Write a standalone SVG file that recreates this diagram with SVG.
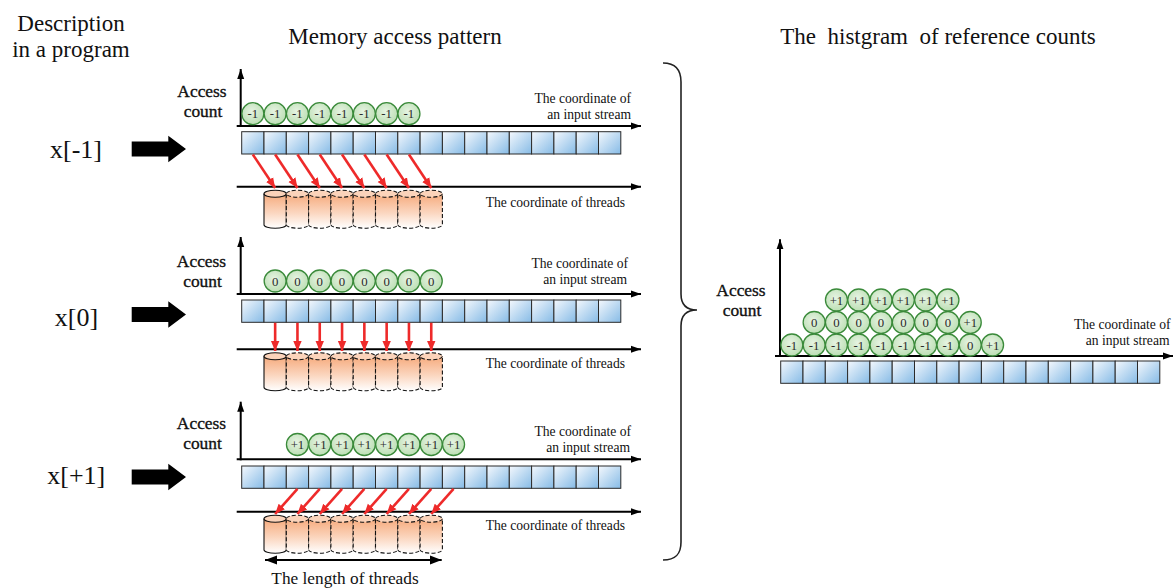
<svg xmlns="http://www.w3.org/2000/svg" xmlns:xlink="http://www.w3.org/1999/xlink" width="1173" height="588" viewBox="0 0 1173 588">
  <style>
    text { font-family: "Liberation Serif", "Times New Roman", serif; fill: #111; }
    .title { font-size: 23px; text-anchor: middle; }
    .expr { font-size: 26px; text-anchor: middle; }
    .ylab { font-size: 17.4px; text-anchor: middle; stroke: #111; stroke-width: 0.35; }
    .xlab { font-size: 13.6px; text-anchor: end; }
    .cnt { font-size: 12.8px; text-anchor: middle; fill: #2a2a2a; }
    .axis { stroke: #000; stroke-width: 2; fill: none; }
    .box { fill: url(#gBox); stroke: #2a2a2a; stroke-width: 1; }
    .coin { fill: url(#gCoin); stroke: #3a8a3a; stroke-width: 1.3; }
    .cyl { fill: url(#gCyl); stroke: #111; stroke-width: 1.1; }
    .cyltop { fill: #fbd3ba; stroke: #111; stroke-width: 1.1; }
    .dash { stroke-dasharray: 4 2.2; }
    .acc { stroke: #ee2a2a; stroke-width: 2.6; fill: none; marker-end: url(#redHead); }
  </style>
  <defs>
    <linearGradient id="gBox" x1="0" y1="0" x2="1" y2="1">
      <stop offset="0" stop-color="#f4f8fd"/>
      <stop offset="1" stop-color="#86bbe6"/>
    </linearGradient>
    <radialGradient id="gCoin" cx="0.45" cy="0.4" r="0.6">
      <stop offset="0" stop-color="#e6f3e2"/>
      <stop offset="1" stop-color="#bcdfb4"/>
    </radialGradient>
    <linearGradient id="gCyl" x1="0" y1="0" x2="0" y2="1">
      <stop offset="0" stop-color="#f6aa7c"/>
      <stop offset="0.55" stop-color="#fbd6bf"/>
      <stop offset="1" stop-color="#ffffff"/>
    </linearGradient>
    <marker id="axHead" markerUnits="userSpaceOnUse" markerWidth="12" markerHeight="10" refX="10" refY="5" orient="auto">
      <path d="M0,1.5 L10,5 L0,8.5 Z" fill="#000"/>
    </marker>
    <marker id="redHead" markerUnits="userSpaceOnUse" markerWidth="12" markerHeight="10" refX="10" refY="5" orient="auto">
      <path d="M0,0.8 L10,5 L0,9.2 Z" fill="#ee2a2a"/>
    </marker>
    <marker id="lenHead" markerUnits="userSpaceOnUse" markerWidth="14" markerHeight="12" refX="12" refY="6" orient="auto-start-reverse">
      <path d="M0,1.5 L12,6 L0,10.5 Z" fill="#000"/>
    </marker>
    <!-- row of 17 memory cells -->
    <g id="cells">
      <rect class="box" x="0" y="0" width="22.3" height="22.3"/>
      <rect class="box" x="22.3" y="0" width="22.3" height="22.3"/>
      <rect class="box" x="44.6" y="0" width="22.3" height="22.3"/>
      <rect class="box" x="66.9" y="0" width="22.3" height="22.3"/>
      <rect class="box" x="89.2" y="0" width="22.3" height="22.3"/>
      <rect class="box" x="111.5" y="0" width="22.3" height="22.3"/>
      <rect class="box" x="133.8" y="0" width="22.3" height="22.3"/>
      <rect class="box" x="156.1" y="0" width="22.3" height="22.3"/>
      <rect class="box" x="178.4" y="0" width="22.3" height="22.3"/>
      <rect class="box" x="200.7" y="0" width="22.3" height="22.3"/>
      <rect class="box" x="223" y="0" width="22.3" height="22.3"/>
      <rect class="box" x="245.3" y="0" width="22.3" height="22.3"/>
      <rect class="box" x="267.6" y="0" width="22.3" height="22.3"/>
      <rect class="box" x="289.9" y="0" width="22.3" height="22.3"/>
      <rect class="box" x="312.2" y="0" width="22.3" height="22.3"/>
      <rect class="box" x="334.5" y="0" width="22.3" height="22.3"/>
      <rect class="box" x="356.8" y="0" width="22.3" height="22.3"/>
    </g>
    <!-- row of 8 thread cylinders; the first solid, the rest dashed -->
    <g id="threads">
      <g>
        <path class="cyl" d="M0,7 V38 A11.15,3.5 0 0 0 22.3,38 V7"/>
        <ellipse class="cyltop" cx="11.15" cy="7" rx="11.15" ry="3.5"/>
      </g>
      <g class="dash">
        <path class="cyl" d="M22.3,7 V38 A11.15,3.5 0 0 0 44.6,38 V7"/>
        <ellipse class="cyltop" cx="33.45" cy="7" rx="11.15" ry="3.5"/>
        <path class="cyl" d="M44.6,7 V38 A11.15,3.5 0 0 0 66.9,38 V7"/>
        <ellipse class="cyltop" cx="55.75" cy="7" rx="11.15" ry="3.5"/>
        <path class="cyl" d="M66.9,7 V38 A11.15,3.5 0 0 0 89.2,38 V7"/>
        <ellipse class="cyltop" cx="78.05" cy="7" rx="11.15" ry="3.5"/>
        <path class="cyl" d="M89.2,7 V38 A11.15,3.5 0 0 0 111.5,38 V7"/>
        <ellipse class="cyltop" cx="100.35" cy="7" rx="11.15" ry="3.5"/>
        <path class="cyl" d="M111.5,7 V38 A11.15,3.5 0 0 0 133.8,38 V7"/>
        <ellipse class="cyltop" cx="122.65" cy="7" rx="11.15" ry="3.5"/>
        <path class="cyl" d="M133.8,7 V38 A11.15,3.5 0 0 0 156.1,38 V7"/>
        <ellipse class="cyltop" cx="144.95" cy="7" rx="11.15" ry="3.5"/>
        <path class="cyl" d="M156.1,7 V38 A11.15,3.5 0 0 0 178.4,38 V7"/>
        <ellipse class="cyltop" cx="167.25" cy="7" rx="11.15" ry="3.5"/>
      </g>
    </g>
    <path id="bigArrow" d="M131.7,-7.5 H168.3 V-13.3 L186,0 L168.3,13.3 V7.5 H131.7 Z" fill="#000"/>
  </defs>

  <!-- headings -->
  <g id="headings">
    <text class="title" x="71" y="31">Description</text>
    <text class="title" x="71" y="57">in a program</text>
    <text class="title" x="395" y="44">Memory access pattern</text>
    <text class="title" x="938" y="44" xml:space="preserve">The  histgram  of reference counts</text>
  </g>

  <!-- expressions -->
  <g id="expr-m1">
    <text class="expr" x="76" y="158">x[-1]</text>
    <use xlink:href="#bigArrow" transform="translate(0,149)"/>
  </g>
  <g id="expr-0">
    <text class="expr" x="76.5" y="326">x[0]</text>
    <use xlink:href="#bigArrow" transform="translate(0,314.5)"/>
  </g>
  <g id="expr-p1">
    <text class="expr" x="76.3" y="484">x[+1]</text>
    <use xlink:href="#bigArrow" transform="translate(0,477)"/>
  </g>

  <!-- panel: x[-1] -->
  <g id="panel-m1">
    <line class="axis" x1="240.7" y1="127" x2="240.7" y2="69" marker-end="url(#axHead)"/>
    <line class="axis" x1="236.7" y1="126" x2="641" y2="126" marker-end="url(#axHead)"/>
    <line class="axis" x1="236.7" y1="186.7" x2="641" y2="186.7" marker-end="url(#axHead)"/>
    <text class="ylab" x="202" y="96.5">Access</text>
    <text class="ylab" x="203" y="116.7">count</text>
    <text class="xlab" x="631" y="103">The coordinate of</text>
    <text class="xlab" x="631" y="119.3">an input stream</text>
    <text class="xlab" x="625" y="206.7">The coordinate of threads</text>
    <use xlink:href="#cells" transform="translate(241.7,131.7)"/>
    <use xlink:href="#threads" transform="translate(264,186.7)"/>
    <g>
      <circle class="coin" cx="252.85" cy="113.7" r="11"/><text class="cnt" x="252.85" y="118.2">-1</text>
      <circle class="coin" cx="275.15" cy="113.7" r="11"/><text class="cnt" x="275.15" y="118.2">-1</text>
      <circle class="coin" cx="297.45" cy="113.7" r="11"/><text class="cnt" x="297.45" y="118.2">-1</text>
      <circle class="coin" cx="319.75" cy="113.7" r="11"/><text class="cnt" x="319.75" y="118.2">-1</text>
      <circle class="coin" cx="342.05" cy="113.7" r="11"/><text class="cnt" x="342.05" y="118.2">-1</text>
      <circle class="coin" cx="364.35" cy="113.7" r="11"/><text class="cnt" x="364.35" y="118.2">-1</text>
      <circle class="coin" cx="386.65" cy="113.7" r="11"/><text class="cnt" x="386.65" y="118.2">-1</text>
      <circle class="coin" cx="408.95" cy="113.7" r="11"/><text class="cnt" x="408.95" y="118.2">-1</text>
    </g>
  </g>

  <!-- panel: x[0] -->
  <g id="panel-0">
    <line class="axis" x1="240.7" y1="295" x2="240.7" y2="237" marker-end="url(#axHead)"/>
    <line class="axis" x1="236.7" y1="294" x2="641" y2="294" marker-end="url(#axHead)"/>
    <line class="axis" x1="236.7" y1="349.3" x2="641" y2="349.3" marker-end="url(#axHead)"/>
    <text class="ylab" x="201.5" y="266.7">Access</text>
    <text class="ylab" x="202.5" y="286.7">count</text>
    <text class="xlab" x="628" y="268.3">The coordinate of</text>
    <text class="xlab" x="627" y="284.3">an input stream</text>
    <text class="xlab" x="625" y="368.3">The coordinate of threads</text>
    <use xlink:href="#cells" transform="translate(241.7,300)"/>
    <use xlink:href="#threads" transform="translate(264,349.3)"/>
    <g>
      <circle class="coin" cx="275.15" cy="281" r="11"/><text class="cnt" x="275.15" y="285.5">0</text>
      <circle class="coin" cx="297.45" cy="281" r="11"/><text class="cnt" x="297.45" y="285.5">0</text>
      <circle class="coin" cx="319.75" cy="281" r="11"/><text class="cnt" x="319.75" y="285.5">0</text>
      <circle class="coin" cx="342.05" cy="281" r="11"/><text class="cnt" x="342.05" y="285.5">0</text>
      <circle class="coin" cx="364.35" cy="281" r="11"/><text class="cnt" x="364.35" y="285.5">0</text>
      <circle class="coin" cx="386.65" cy="281" r="11"/><text class="cnt" x="386.65" y="285.5">0</text>
      <circle class="coin" cx="408.95" cy="281" r="11"/><text class="cnt" x="408.95" y="285.5">0</text>
      <circle class="coin" cx="431.25" cy="281" r="11"/><text class="cnt" x="431.25" y="285.5">0</text>
    </g>
  </g>

  <!-- panel: x[+1] -->
  <g id="panel-p1">
    <line class="axis" x1="240.7" y1="460.3" x2="240.7" y2="401.7" marker-end="url(#axHead)"/>
    <line class="axis" x1="236.7" y1="459.3" x2="641" y2="459.3" marker-end="url(#axHead)"/>
    <line class="axis" x1="236.7" y1="511.7" x2="641" y2="511.7" marker-end="url(#axHead)"/>
    <text class="ylab" x="201.5" y="428.5">Access</text>
    <text class="ylab" x="202.5" y="448.5">count</text>
    <text class="xlab" x="631" y="435.5">The coordinate of</text>
    <text class="xlab" x="630" y="451.5">an input stream</text>
    <text class="xlab" x="625" y="530">The coordinate of threads</text>
    <use xlink:href="#cells" transform="translate(241.7,466)"/>
    <use xlink:href="#threads" transform="translate(264,511.7)"/>
    <g>
      <circle class="coin" cx="297.45" cy="444.5" r="11"/><text class="cnt" x="297.45" y="449">+1</text>
      <circle class="coin" cx="319.75" cy="444.5" r="11"/><text class="cnt" x="319.75" y="449">+1</text>
      <circle class="coin" cx="342.05" cy="444.5" r="11"/><text class="cnt" x="342.05" y="449">+1</text>
      <circle class="coin" cx="364.35" cy="444.5" r="11"/><text class="cnt" x="364.35" y="449">+1</text>
      <circle class="coin" cx="386.65" cy="444.5" r="11"/><text class="cnt" x="386.65" y="449">+1</text>
      <circle class="coin" cx="408.95" cy="444.5" r="11"/><text class="cnt" x="408.95" y="449">+1</text>
      <circle class="coin" cx="431.25" cy="444.5" r="11"/><text class="cnt" x="431.25" y="449">+1</text>
      <circle class="coin" cx="453.55" cy="444.5" r="11"/><text class="cnt" x="453.55" y="449">+1</text>
    </g>
    <line x1="265" y1="560" x2="441.7" y2="560" stroke="#000" stroke-width="2.2" marker-start="url(#lenHead)" marker-end="url(#lenHead)"/>
    <text x="345" y="584" font-size="17.3" text-anchor="middle">The length of threads</text>
  </g>

  <!-- cell-to-thread accesses -->
  <g id="connectors">
    <line class="acc" x1="252.85" y1="154.5" x2="275.15" y2="188"/>
    <line class="acc" x1="275.15" y1="154.5" x2="297.45" y2="188"/>
    <line class="acc" x1="297.45" y1="154.5" x2="319.75" y2="188"/>
    <line class="acc" x1="319.75" y1="154.5" x2="342.05" y2="188"/>
    <line class="acc" x1="342.05" y1="154.5" x2="364.35" y2="188"/>
    <line class="acc" x1="364.35" y1="154.5" x2="386.65" y2="188"/>
    <line class="acc" x1="386.65" y1="154.5" x2="408.95" y2="188"/>
    <line class="acc" x1="408.95" y1="154.5" x2="431.25" y2="188"/>

    <line class="acc" x1="275.15" y1="322.8" x2="275.15" y2="351"/>
    <line class="acc" x1="297.45" y1="322.8" x2="297.45" y2="351"/>
    <line class="acc" x1="319.75" y1="322.8" x2="319.75" y2="351"/>
    <line class="acc" x1="342.05" y1="322.8" x2="342.05" y2="351"/>
    <line class="acc" x1="364.35" y1="322.8" x2="364.35" y2="351"/>
    <line class="acc" x1="386.65" y1="322.8" x2="386.65" y2="351"/>
    <line class="acc" x1="408.95" y1="322.8" x2="408.95" y2="351"/>
    <line class="acc" x1="431.25" y1="322.8" x2="431.25" y2="351"/>

    <line class="acc" x1="297.45" y1="488.8" x2="275.15" y2="514"/>
    <line class="acc" x1="319.75" y1="488.8" x2="297.45" y2="514"/>
    <line class="acc" x1="342.05" y1="488.8" x2="319.75" y2="514"/>
    <line class="acc" x1="364.35" y1="488.8" x2="342.05" y2="514"/>
    <line class="acc" x1="386.65" y1="488.8" x2="364.35" y2="514"/>
    <line class="acc" x1="408.95" y1="488.8" x2="386.65" y2="514"/>
    <line class="acc" x1="431.25" y1="488.8" x2="408.95" y2="514"/>
    <line class="acc" x1="453.55" y1="488.8" x2="431.25" y2="514"/>
  </g>

  <!-- brace gathering the three patterns -->
  <g id="brace">
    <path d="M663,63 C676,63 681,70 681,82 L681,294 C681,304 686,310 697,310 C686,310 681,316 681,326 L681,542 C681,554 676,560 663,560" fill="none" stroke="#222" stroke-width="1.6"/>
  </g>

  <!-- histogram -->
  <g id="histogram">
    <line class="axis" x1="780" y1="357" x2="780" y2="239.3" marker-end="url(#axHead)"/>
    <line class="axis" x1="775" y1="356" x2="1173" y2="356" marker-end="url(#axHead)"/>
    <text class="ylab" x="741" y="295.7">Access</text>
    <text class="ylab" x="742" y="315.7">count</text>
    <text class="xlab" x="1170.5" y="329.3">The coordinate of</text>
    <text class="xlab" x="1169.5" y="345">an input stream</text>
    <use xlink:href="#cells" transform="translate(780.7,361)"/>
    <g>
      <circle class="coin" cx="791.85" cy="345" r="11"/><text class="cnt" x="791.85" y="349.5">-1</text>
      <circle class="coin" cx="814.15" cy="345" r="11"/><text class="cnt" x="814.15" y="349.5">-1</text>
      <circle class="coin" cx="836.45" cy="345" r="11"/><text class="cnt" x="836.45" y="349.5">-1</text>
      <circle class="coin" cx="858.75" cy="345" r="11"/><text class="cnt" x="858.75" y="349.5">-1</text>
      <circle class="coin" cx="881.05" cy="345" r="11"/><text class="cnt" x="881.05" y="349.5">-1</text>
      <circle class="coin" cx="903.35" cy="345" r="11"/><text class="cnt" x="903.35" y="349.5">-1</text>
      <circle class="coin" cx="925.65" cy="345" r="11"/><text class="cnt" x="925.65" y="349.5">-1</text>
      <circle class="coin" cx="947.95" cy="345" r="11"/><text class="cnt" x="947.95" y="349.5">-1</text>
      <circle class="coin" cx="970.25" cy="345" r="11"/><text class="cnt" x="970.25" y="349.5">0</text>
      <circle class="coin" cx="992.55" cy="345" r="11"/><text class="cnt" x="992.55" y="349.5">+1</text>

      <circle class="coin" cx="814.15" cy="322.5" r="11"/><text class="cnt" x="814.15" y="327">0</text>
      <circle class="coin" cx="836.45" cy="322.5" r="11"/><text class="cnt" x="836.45" y="327">0</text>
      <circle class="coin" cx="858.75" cy="322.5" r="11"/><text class="cnt" x="858.75" y="327">0</text>
      <circle class="coin" cx="881.05" cy="322.5" r="11"/><text class="cnt" x="881.05" y="327">0</text>
      <circle class="coin" cx="903.35" cy="322.5" r="11"/><text class="cnt" x="903.35" y="327">0</text>
      <circle class="coin" cx="925.65" cy="322.5" r="11"/><text class="cnt" x="925.65" y="327">0</text>
      <circle class="coin" cx="947.95" cy="322.5" r="11"/><text class="cnt" x="947.95" y="327">0</text>
      <circle class="coin" cx="970.25" cy="322.5" r="11"/><text class="cnt" x="970.25" y="327">+1</text>

      <circle class="coin" cx="836.45" cy="300" r="11"/><text class="cnt" x="836.45" y="304.5">+1</text>
      <circle class="coin" cx="858.75" cy="300" r="11"/><text class="cnt" x="858.75" y="304.5">+1</text>
      <circle class="coin" cx="881.05" cy="300" r="11"/><text class="cnt" x="881.05" y="304.5">+1</text>
      <circle class="coin" cx="903.35" cy="300" r="11"/><text class="cnt" x="903.35" y="304.5">+1</text>
      <circle class="coin" cx="925.65" cy="300" r="11"/><text class="cnt" x="925.65" y="304.5">+1</text>
      <circle class="coin" cx="947.95" cy="300" r="11"/><text class="cnt" x="947.95" y="304.5">+1</text>
    </g>
  </g>
</svg>
